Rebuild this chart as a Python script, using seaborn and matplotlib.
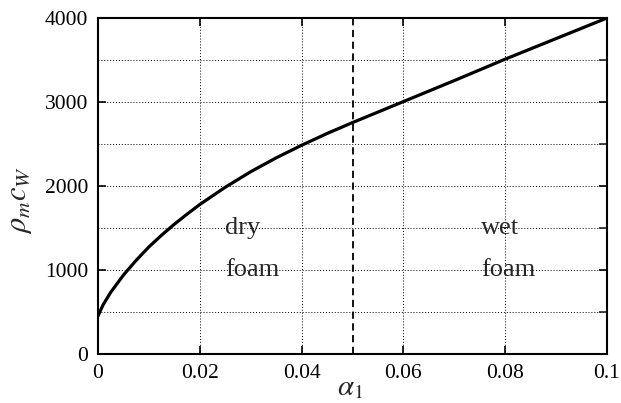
import matplotlib
matplotlib.use("Agg")
import matplotlib.pyplot as plt
import seaborn as sns
import pandas as pd
from matplotlib.ticker import MultipleLocator

alpha = [0.0, 0.0005, 0.001, 0.0025, 0.005, 0.0075, 0.01, 0.0125, 0.015, 0.0175, 0.02,
         0.025, 0.03, 0.035, 0.04, 0.045, 0.05, 0.055, 0.06, 0.07, 0.08, 0.09, 0.1]
rho_c = [450, 520, 585, 735, 940, 1115, 1275, 1415, 1545, 1665, 1780,
         1985, 2170, 2335, 2485, 2625, 2755, 2880, 3005, 3255, 3510, 3755, 4000]
boundary = 0.05
xticks = [0, 0.02, 0.04, 0.06, 0.08, 0.1]
xticklabels = ["0", "0.02", "0.04", "0.06", "0.08", "0.1"]
yticks = [0, 1000, 2000, 3000, 4000]
yticklabels = ["0", "1000", "2000", "3000", "4000"]

sns.set_style("ticks")
plt.rcParams["font.family"] = ["Liberation Serif", "DejaVu Serif"]
plt.rcParams["mathtext.fontset"] = "stix"

df = pd.DataFrame({"alpha": alpha, "rho_c": rho_c})

fig = plt.figure(figsize=(6.21, 4.03), dpi=100)
ax = fig.add_axes([98/621, 1-354/403, (607-98)/621, (354-18)/403])

sns.lineplot(data=df, x="alpha", y="rho_c", ax=ax, color="black", linewidth=2.3)
ax.axvline(boundary, color="black", linestyle=(0, (4, 2.5)), linewidth=1.3)

ax.set_xlim(0, 0.1)
ax.set_ylim(0, 4000)
ax.set_xticks(xticks)
ax.set_xticklabels(xticklabels)
ax.set_yticks(yticks)
ax.set_yticklabels(yticklabels)
ax.yaxis.set_minor_locator(MultipleLocator(500))

ax.grid(True, which="major", linestyle=(0, (1, 2)), color="black", linewidth=0.7)
ax.grid(True, which="minor", axis="y", linestyle=(0, (1, 2)), color="black", linewidth=0.7)

ax.tick_params(axis="both", which="major", direction="in", length=6, width=1.2,
               top=True, right=True, labelsize=15.5, pad=7, colors="black")
ax.tick_params(axis="y", which="minor", direction="in", length=6, width=1.2,
               left=False, right=True)
for s in ax.spines.values():
    s.set_visible(True)
    s.set_linewidth(1.5)
    s.set_color("black")

ax.set_xlabel(r"$\alpha_1$", fontsize=21)
ax.set_ylabel(r"$\rho_m c_W$", fontsize=22)
ax.xaxis.set_label_coords(0.495, -0.062)
ax.yaxis.set_label_coords(-0.125, 0.46)

ax.text(0.025, 1500, "dry", fontsize=19, va="center", ha="left")
ax.text(0.025, 1000, "foam", fontsize=19, va="center", ha="left")
ax.text(0.0752, 1500, "wet", fontsize=19, va="center", ha="left")
ax.text(0.0752, 1000, "foam", fontsize=19, va="center", ha="left")

fig.savefig("out.png", dpi=100)
